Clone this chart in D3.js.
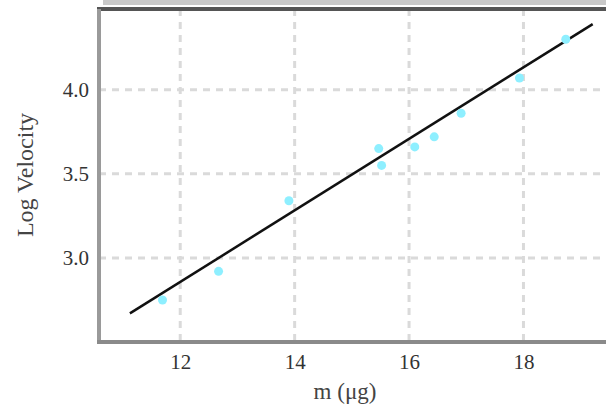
<!DOCTYPE html>
<html>
<head>
<meta charset="utf-8">
<script src="https://cdn.jsdelivr.net/npm/d3@7"></script>
<style>
  html, body { margin: 0; padding: 0; background: #fff; }
  svg { display: block; font-family: "Liberation Serif", "DejaVu Serif", serif; }
</style>
</head>
<body>
<div id="chart"></div>
<script>

// measured points
var massValues = [11.69, 12.67, 13.9, 15.47, 15.52, 16.1, 16.44, 16.91, 17.93, 18.74];
var logVelocity = [2.75, 2.92, 3.34, 3.65, 3.55, 3.66, 3.72, 3.86, 4.07, 4.30];

// fitted line ends
var fitMass = [11.12, 19.21];
var fitVelocity = [2.67, 4.39];

var xTicks = [12, 14, 16, 18];
var yTicks = [3.0, 3.5, 4.0];
var xLabel = 'm (\u03bcg)';
var yLabel = 'Log Velocity';

var settings = {
  width: 606,
  height: 408,
  left: 99,
  top: 9,
  bottom: 342,
  right: 615
};

function translate(x, y) {
  return 'translate(' + x + ',' + y + ')';
}

var svg = d3.select('#chart').append('svg')
  .attr('width', settings.width)
  .attr('height', settings.height);

var x = d3.scaleLinear()
  .domain([10.58, 19.6])
  .range([settings.left, settings.right]);

var y = d3.scaleLinear()
  .domain([2.5, 4.48])
  .range([settings.bottom, settings.top]);

// grid
svg.append('g').selectAll('line')
  .data(xTicks)
  .enter().append('line')
  .attr('x1', function(d) { return x(d); })
  .attr('x2', function(d) { return x(d); })
  .attr('y1', settings.top)
  .attr('y2', settings.bottom)
  .attr('stroke', '#dadada')
  .attr('stroke-width', 3)
  .attr('stroke-dasharray', '7,6');

svg.append('g').selectAll('line')
  .data(yTicks)
  .enter().append('line')
  .attr('x1', settings.left)
  .attr('x2', settings.right)
  .attr('y1', function(d) { return y(d); })
  .attr('y2', function(d) { return y(d); })
  .attr('stroke', '#dadada')
  .attr('stroke-width', 3)
  .attr('stroke-dasharray', '7,6');

// frame
svg.append('rect')
  .attr('x', settings.left + 4).attr('y', 0)
  .attr('width', settings.width).attr('height', 5)
  .attr('fill', '#c9c9c9');

svg.append('line')
  .attr('x1', settings.left - 2).attr('x2', settings.width)
  .attr('y1', settings.top).attr('y2', settings.top)
  .attr('stroke', '#555').attr('stroke-width', 4);

svg.append('line')
  .attr('x1', settings.left).attr('x2', settings.left)
  .attr('y1', settings.top).attr('y2', settings.bottom)
  .attr('stroke', '#9a9a9a').attr('stroke-width', 4);

svg.append('line')
  .attr('x1', settings.left - 2).attr('x2', settings.width)
  .attr('y1', settings.bottom).attr('y2', settings.bottom)
  .attr('stroke', '#8a8a8a').attr('stroke-width', 4);

// axes (labels only, domain hidden)
var xAxis = svg.append('g')
  .attr('transform', translate(0, settings.bottom + 4))
  .call(d3.axisBottom(x).tickValues(xTicks).tickSize(0).tickPadding(8).tickFormat(d3.format('d')));

var yAxis = svg.append('g')
  .attr('transform', translate(settings.left - 4, 0))
  .call(d3.axisLeft(y).tickValues(yTicks).tickSize(0).tickPadding(6).tickFormat(d3.format('.1f')));

[xAxis, yAxis].forEach(function(a) {
  a.select('.domain').attr('display', 'none');
  a.selectAll('text')
    .attr('font-family', '"Liberation Serif", "DejaVu Serif", serif')
    .attr('font-size', 21)
    .attr('fill', '#333');
});

// axis titles
svg.append('text')
  .attr('x', 345).attr('y', 399)
  .attr('text-anchor', 'middle')
  .attr('font-size', 23)
  .attr('fill', '#444')
  .text(xLabel);

svg.append('text')
  .attr('transform', translate(33, 175) + ' rotate(-90)')
  .attr('text-anchor', 'middle')
  .attr('font-size', 24)
  .attr('fill', '#444')
  .text(yLabel);

// fit line
var line = d3.line()
  .x(function(d) { return x(d[0]); })
  .y(function(d) { return y(d[1]); });

svg.append('path')
  .attr('d', line(d3.zip(fitMass, fitVelocity)))
  .attr('fill', 'none')
  .attr('stroke', '#111')
  .attr('stroke-width', 2.5);

// points
svg.append('g').selectAll('circle')
  .data(d3.zip(massValues, logVelocity))
  .enter().append('circle')
  .attr('cx', function(d) { return x(d[0]); })
  .attr('cy', function(d) { return y(d[1]); })
  .attr('r', 4.5)
  .attr('fill', '#8eefff');

</script>
</body>
</html>
